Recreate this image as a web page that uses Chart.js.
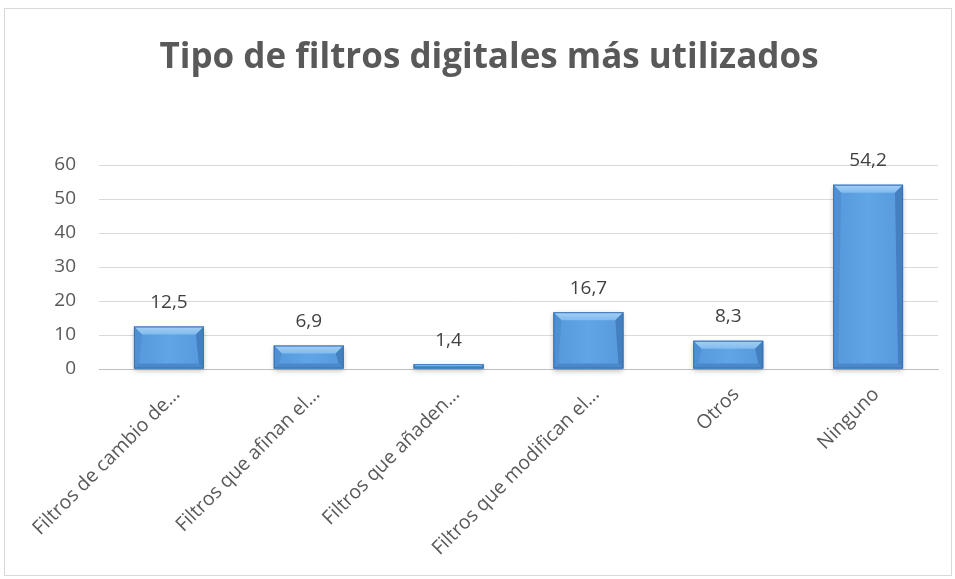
<!DOCTYPE html>
<html>
<head>
<meta charset="utf-8">
<script src="https://cdn.jsdelivr.net/npm/chart.js@4.4.0/dist/chart.umd.min.js"></script>
<style>
  html, body { margin: 0; padding: 0; background: #fff; }
  #wrap { position: relative; width: 955px; height: 579px; }
  #frame { position: absolute; left: 4px; top: 8px; width: 946px; height: 566px; border: 1px solid #d9d9d9; pointer-events: none; }
</style>
</head>
<body>
<div id="wrap">
  <canvas id="plot-data" width="955" height="579"></canvas>
  <div id="frame"></div>
</div>
<script>
const chartTitle = 'Tipo de filtros digitales más utilizados'
const categories = [
    'Filtros de cambio de…',
    'Filtros que afinan el…',
    'Filtros que añaden…',
    'Filtros que modifican el…',
    'Otros',
    'Ninguno'
]
const percentages = [12.5, 6.9, 1.4, 16.7, 8.3, 54.2]
const yTicks = [0, 10, 20, 30, 40, 50, 60]

const fontName = "'Open Sans', 'DejaVu Sans', sans-serif"
const textGray = '#595959'

// fake the bevelled Excel bars on top of the normal bar fill
const bevelBars = {
    id: 'bevelBars',
    afterDatasetsDraw(chart) {
        const ctx = chart.ctx
        chart.getDatasetMeta(0).data.forEach(function(bar) {
            const l = bar.x - bar.width / 2
            const r = bar.x + bar.width / 2
            const t = Math.min(bar.y, bar.base)
            const b = Math.max(bar.y, bar.base)
            const h = b - t
            const bv = Math.min(8, h / 2)
            const sv = Math.min(5, h / 2)
            ctx.save()
            // face + soft shadow
            ctx.shadowColor = 'rgba(0,0,0,0.28)'
            ctx.shadowBlur = 5
            ctx.shadowOffsetY = 2
            const g = ctx.createLinearGradient(l, 0, r, 0)
            g.addColorStop(0, '#5598db')
            g.addColorStop(0.5, '#60a5e6')
            g.addColorStop(1, '#5699dc')
            ctx.fillStyle = g
            ctx.fillRect(l, t, r - l, h)
            ctx.shadowColor = 'transparent'
            // top
            const gt = ctx.createLinearGradient(0, t, 0, t + bv)
            gt.addColorStop(0, '#a6d0f4')
            gt.addColorStop(1, '#80bbee')
            ctx.fillStyle = gt
            ctx.beginPath()
            ctx.moveTo(l, t); ctx.lineTo(r, t); ctx.lineTo(r - bv, t + bv); ctx.lineTo(l + bv, t + bv); ctx.closePath(); ctx.fill()
            // left
            ctx.fillStyle = '#4f90d4'
            ctx.beginPath()
            ctx.moveTo(l, t); ctx.lineTo(l + bv, t + bv); ctx.lineTo(l + sv, b - sv); ctx.lineTo(l, b); ctx.closePath(); ctx.fill()
            // right
            ctx.fillStyle = '#447fc0'
            ctx.beginPath()
            ctx.moveTo(r, t); ctx.lineTo(r - bv, t + bv); ctx.lineTo(r - sv, b - sv); ctx.lineTo(r, b); ctx.closePath(); ctx.fill()
            // bottom
            ctx.fillStyle = '#4b88c9'
            ctx.beginPath()
            ctx.moveTo(l, b); ctx.lineTo(r, b); ctx.lineTo(r - sv, b - sv); ctx.lineTo(l + sv, b - sv); ctx.closePath(); ctx.fill()
            ctx.strokeStyle = '#3a72b2'
            ctx.lineWidth = 1
            ctx.strokeRect(l + 0.5, t + 0.5, r - l - 1, h - 1)
            ctx.restore()
        })
    }
}

// value labels above each bar
const valueLabels = {
    id: 'valueLabels',
    afterDatasetsDraw(chart) {
        const ctx = chart.ctx
        const ds = chart.data.datasets[0]
        ctx.save()
        ctx.font = '19px ' + fontName
        ctx.fillStyle = '#404040'
        ctx.textAlign = 'center'
        ctx.textBaseline = 'middle'
        chart.getDatasetMeta(0).data.forEach(function(bar, i) {
            ctx.fillText(ds.data[i].toFixed(1).replace('.', ','), bar.x, bar.y - 24)
        })
        ctx.restore()
    }
}

var ctx = document.getElementById('plot-data').getContext('2d')
var graph = new Chart(ctx, {
    type: 'bar',
    data: {
        labels: categories,
        datasets: [{
            data: percentages,
            backgroundColor: '#5b9bd5',
            borderWidth: 0,
            categoryPercentage: 1,
            barPercentage: 0.5
        }]
    },
    options: {
        responsive: false,
        animation: false,
        layout: { padding: { left: 40, right: 17, top: 0, bottom: 0 } },
        plugins: {
            legend: false,
            tooltip: { enabled: false },
            title: {
                display: true,
                text: chartTitle,
                color: textGray,
                font: { family: fontName, size: 35, weight: 'bold', lineHeight: 1.2 },
                padding: { top: 37, bottom: 86 }
            }
        },
        scales: {
            x: {
                grid: { display: false, drawTicks: false },
                border: { display: true, color: '#bfbfbf', width: 1 },
                ticks: {
                    color: textGray,
                    font: { family: fontName, size: 19.5 },
                    maxRotation: 45,
                    minRotation: 45,
                    autoSkip: false,
                    padding: 14,
                    labelOffset: 8
                },
                afterFit: function(scale) { scale.height = 210 }
            },
            y: {
                min: 0,
                max: 60,
                afterBuildTicks: function(scale) { scale.ticks = yTicks.map(v => ({ value: v })) },
                grid: { color: '#d9d9d9', drawTicks: false },
                border: { display: false },
                ticks: {
                    color: textGray,
                    font: { family: fontName, size: 19 },
                    padding: 23
                },
                afterFit: function(scale) { scale.width = 59 }
            }
        }
    },
    plugins: [bevelBars, valueLabels]
})
</script>
</body>
</html>
